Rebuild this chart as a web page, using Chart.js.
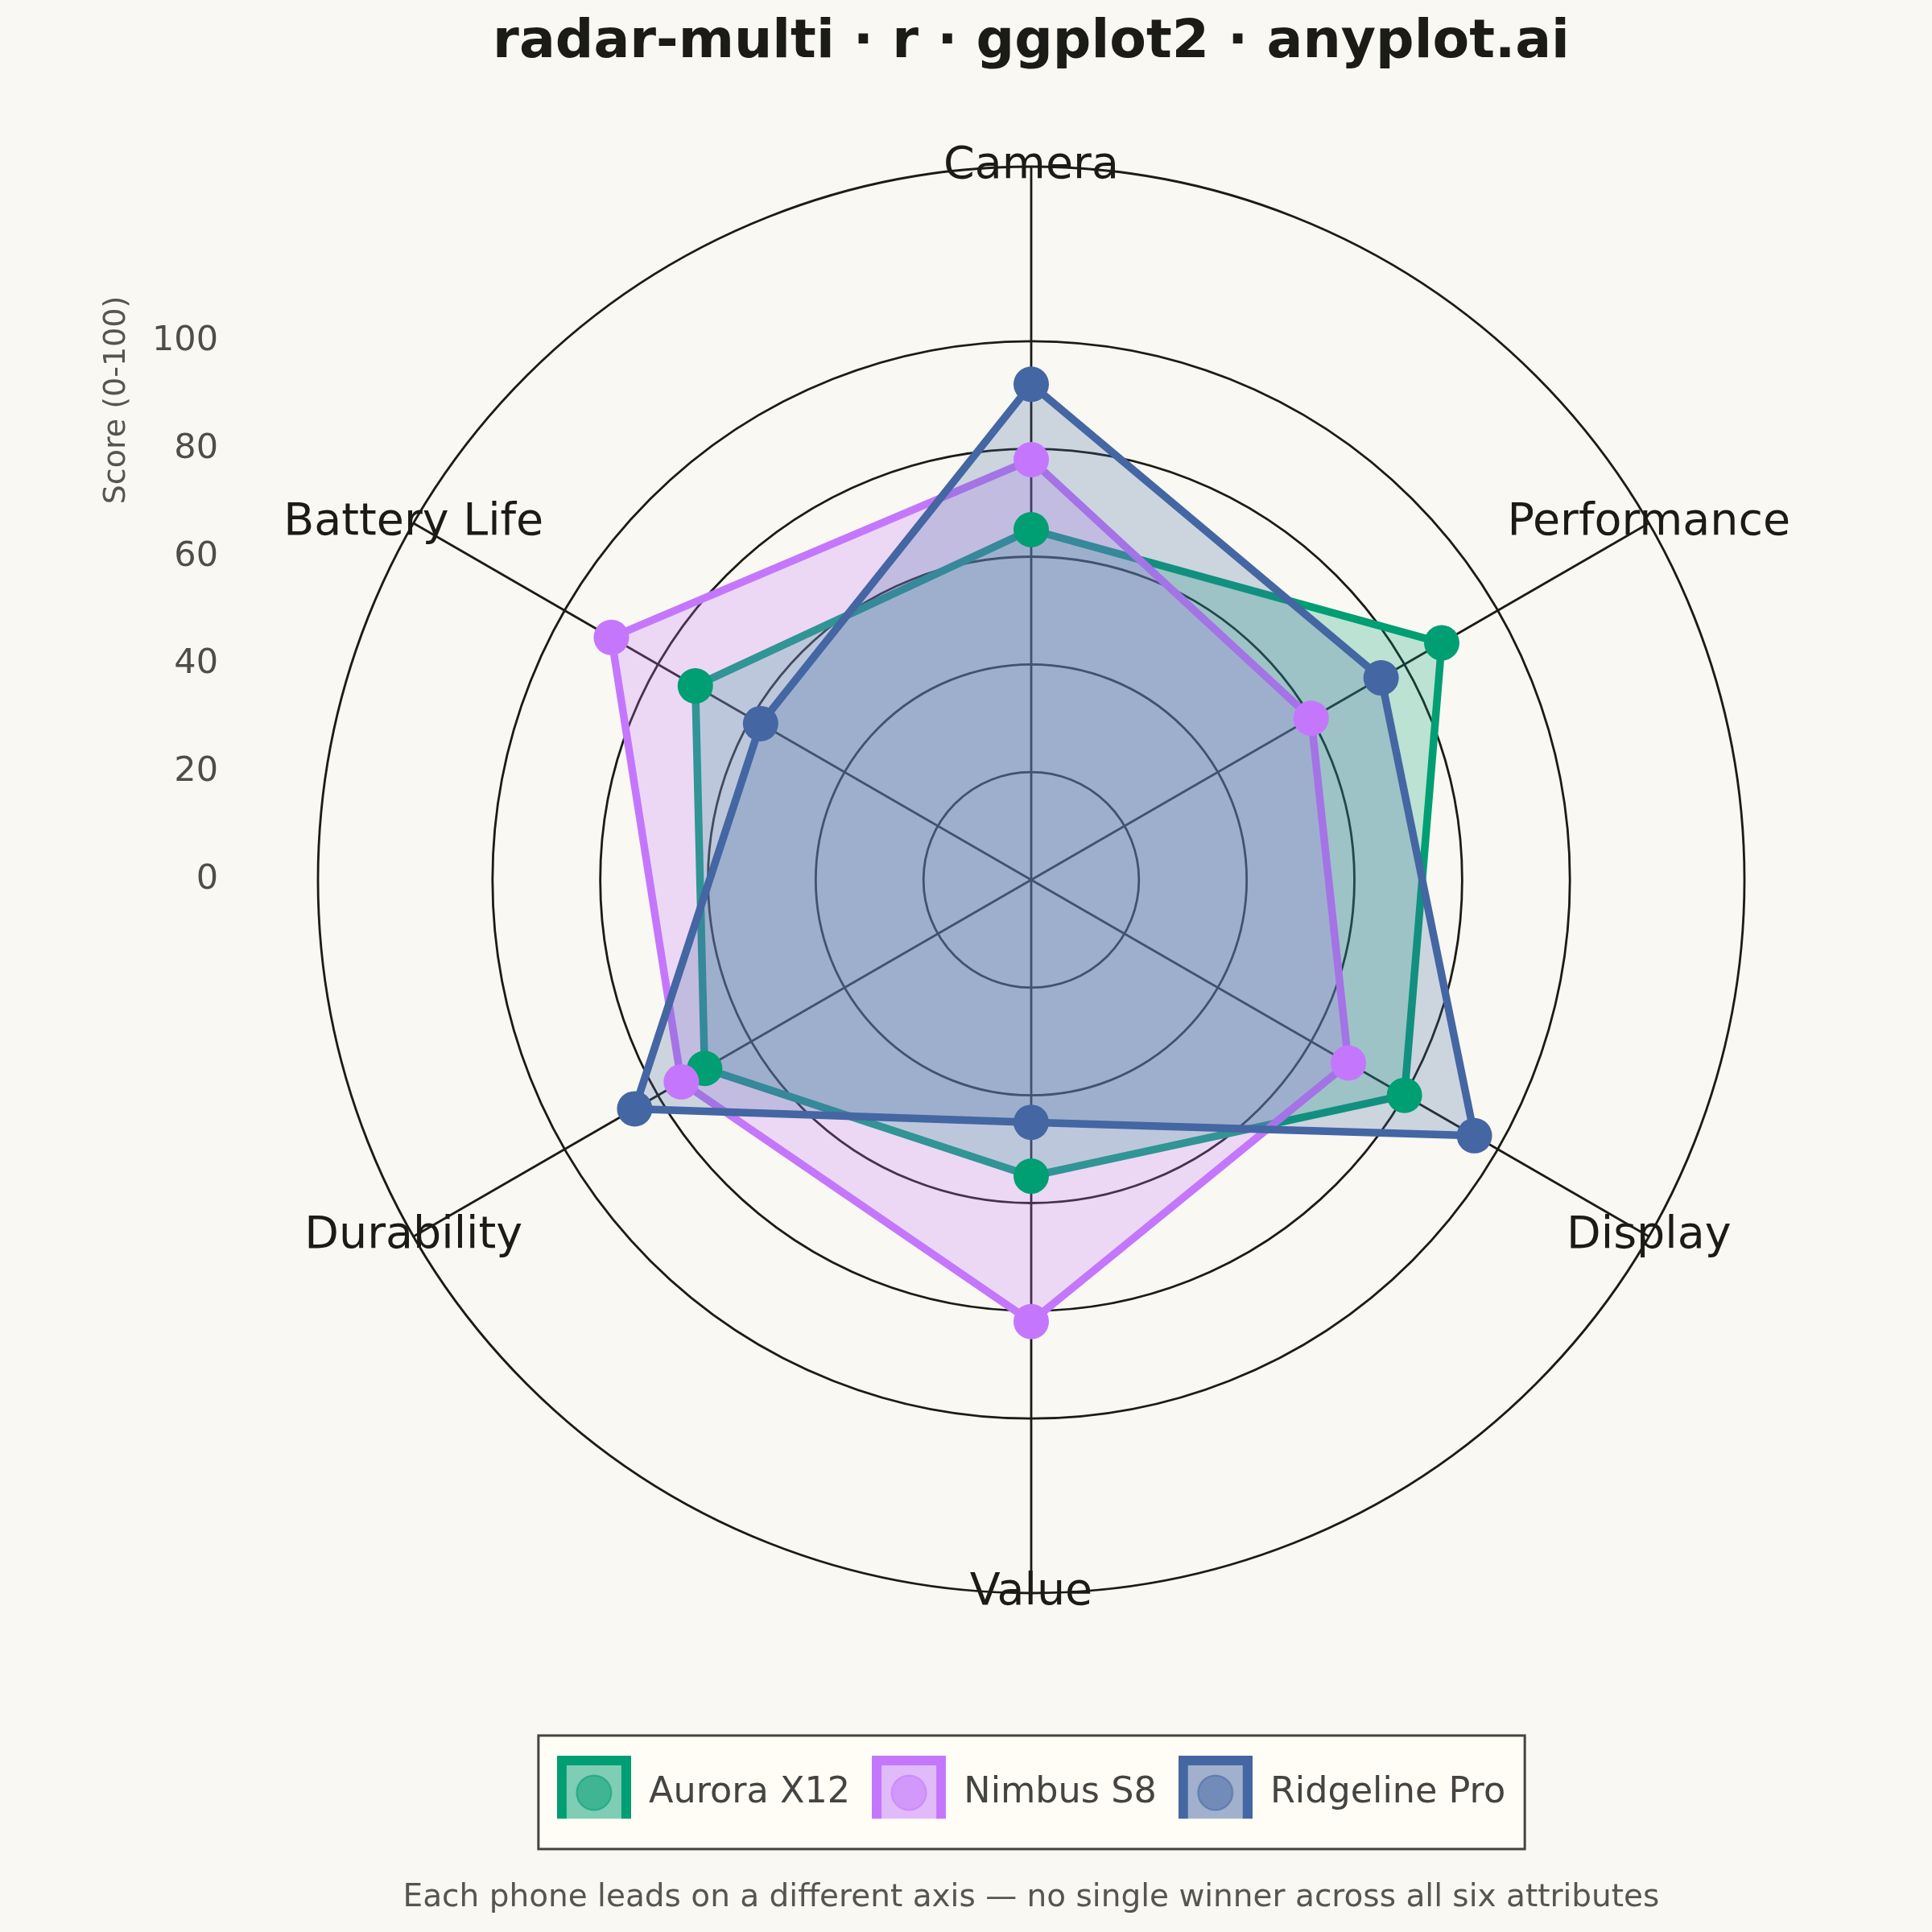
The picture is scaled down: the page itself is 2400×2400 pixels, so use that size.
<!DOCTYPE html>
<html>
<head>
<meta charset="utf-8">
<script src="https://cdn.jsdelivr.net/npm/chart.js@4.4.1/dist/chart.umd.min.js"></script>
<style>
  html, body { margin: 0; padding: 0; background: #FAF8F2; }
  canvas { display: block; }
</style>
</head>
<body>
<canvas id="c" width="2400" height="2400"></canvas>
<script>
// ---- data ----
const categories = ['Camera', 'Performance', 'Display', 'Value', 'Durability', 'Battery Life'];
const seriesNames = ['Aurora X12', 'Nimbus S8', 'Ridgeline Pro'];
const auroraX12 = [65, 88, 80, 55, 70, 72];
const nimbusS8 = [78, 60, 68, 82, 75, 90];
const ridgelinePro = [92, 75, 95, 45, 85, 58];
const tickValues = [0, 20, 40, 60, 80, 100];
const tickLabels = ['0', '20', '40', '60', '80', '100'];
const axisTitle = 'Score (0-100)';
const titleText = 'radar-multi · r · ggplot2 · anyplot.ai';
const captionText = 'Each phone leads on a different axis — no single winner across all six attributes';
const outerLimit = 132.4;

// ---- styles ----
const seriesColors = ['#009E73', '#C477FD', '#4466A3'];
const BG = '#FAF8F2';
const INK = '#1b1b17';
const FONT = 'DejaVu Sans';
const LEGEND_FONT = 44.5;

function rgba(hex, a) {
  const n = parseInt(hex.slice(1), 16);
  return `rgba(${(n >> 16) & 255},${(n >> 8) & 255},${n & 255},${a})`;
}

function legendIcon(color) {
  const c = document.createElement('canvas');
  c.width = 92; c.height = 92;
  const g = c.getContext('2d');
  g.fillStyle = rgba(color, 0.5);
  g.fillRect(0, 0, 92, 92);
  g.lineWidth = 12;
  g.strokeStyle = color;
  g.strokeRect(6, 6, 80, 80);
  g.beginPath();
  g.arc(46, 46, 21.5, 0, Math.PI * 2);
  g.fillStyle = rgba(color, 0.5);
  g.fill();
  g.lineWidth = 2;
  g.strokeStyle = rgba(color, 0.6);
  g.stroke();
  return c;
}
const legendIcons = seriesColors.map(legendIcon);

const seriesValues = [auroraX12, nimbusS8, ridgelinePro];

const polygonSets = seriesValues.map((vals, i) => ({
  label: seriesNames[i],
  data: vals,
  fill: true,
  backgroundColor: rgba(seriesColors[i], 0.25),
  borderColor: seriesColors[i],
  borderWidth: 9.5,
  borderJoinStyle: 'round',
  pointRadius: 0,
  pointHoverRadius: 0,
  order: 10 - i
}));

const pointSets = seriesValues.map((vals, i) => ({
  label: seriesNames[i] + ' points',
  data: vals,
  fill: false,
  showLine: false,
  borderColor: 'transparent',
  backgroundColor: seriesColors[i],
  pointBackgroundColor: seriesColors[i],
  pointBorderWidth: 0,
  pointRadius: 22,
  pointHoverRadius: 22,
  order: 3 - i
}));

const decorPlugin = {
  id: 'decor',
  beforeDraw(chart) {
    const ctx = chart.ctx;
    ctx.save();
    ctx.fillStyle = BG;
    ctx.fillRect(0, 0, chart.width, chart.height);
    // legend frame
    const hb = chart.legend && chart.legend.legendHitBoxes;
    if (hb && hb.length) {
      const first = hb[0], last = hb[hb.length - 1];
      const left = first.left - 23;
      const right = last.left + last.width + 24;
      const cy = first.top + LEGEND_FONT / 2;
      ctx.fillStyle = '#FFFDF6';
      ctx.fillRect(left, cy - 71, right - left, 141);
      ctx.lineWidth = 3;
      ctx.strokeStyle = '#444440';
      ctx.strokeRect(left, cy - 71, right - left, 141);
    }
    ctx.restore();
  },
  afterDraw(chart) {
    const ctx = chart.ctx;
    const r = chart.scales.r;
    ctx.save();
    // tick labels on the left
    ctx.font = `43px "${FONT}"`;
    ctx.fillStyle = '#4d4d4a';
    ctx.textAlign = 'right';
    ctx.textBaseline = 'middle';
    tickValues.forEach((v, i) => {
      const y = r.yCenter - r.getDistanceFromCenterForValue(v);
      ctx.fillText(tickLabels[i], 271, y);
    });
    // axis title
    ctx.save();
    ctx.translate(145, 497);
    ctx.rotate(-Math.PI / 2);
    ctx.font = `38px "${FONT}"`;
    ctx.fillStyle = '#555552';
    ctx.textAlign = 'center';
    ctx.textBaseline = 'middle';
    ctx.fillText(axisTitle, 0, 0);
    ctx.restore();
    // category labels centred on outer ring
    ctx.font = `55.5px "${FONT}"`;
    ctx.fillStyle = INK;
    ctx.textAlign = 'center';
    ctx.textBaseline = 'middle';
    categories.forEach((name, i) => {
      const p = r.getPointPositionForValue(i, r.max);
      ctx.fillText(name, p.x, p.y);
    });
    ctx.restore();
  }
};

new Chart(document.getElementById('c'), {
  type: 'radar',
  data: {
    labels: categories,
    datasets: [...polygonSets, ...pointSets]
  },
  plugins: [decorPlugin],
  options: {
    responsive: false,
    devicePixelRatio: 1,
    animation: false,
    events: [],
    layout: { padding: { left: 162, right: 0, top: 0, bottom: 0 } },
    elements: { line: { tension: 0 } },
    scales: {
      r: {
        min: 0,
        max: outerLimit,
        startAngle: 0,
        afterBuildTicks(scale) {
          scale.ticks = [...tickValues, outerLimit].map(v => ({ value: v }));
        },
        afterFit(scale) {
          scale.yCenter = 1093;
          scale.drawingArea = 886;
        },
        ticks: { display: false },
        pointLabels: { display: false },
        grid: { circular: true, color: INK, lineWidth: 2.8 },
        angleLines: { display: true, color: INK, lineWidth: 2.8 }
      }
    },
    plugins: {
      tooltip: { enabled: false },
      title: {
        display: true,
        text: titleText,
        color: INK,
        font: { family: FONT, size: 66.5, weight: 'bold' },
        padding: { top: 14, bottom: 20 }
      },
      subtitle: {
        display: true,
        position: 'bottom',
        text: captionText,
        color: '#555552',
        font: { family: FONT, size: 39, weight: 'normal' },
        padding: { top: 75, bottom: 19 }
      },
      legend: {
        display: true,
        position: 'bottom',
        labels: {
          usePointStyle: true,
          pointStyleWidth: 92,
          boxHeight: 43,
          padding: 27,
          color: '#444440',
          font: { family: FONT, size: LEGEND_FONT },
          generateLabels() {
            return seriesNames.map((name, i) => ({
              text: name,
              pointStyle: legendIcons[i],
              fillStyle: seriesColors[i],
              strokeStyle: seriesColors[i],
              lineWidth: 0,
              fontColor: '#444440',
              hidden: false,
              datasetIndex: i
            }));
          }
        }
      }
    }
  }
});
</script>
</body>
</html>
